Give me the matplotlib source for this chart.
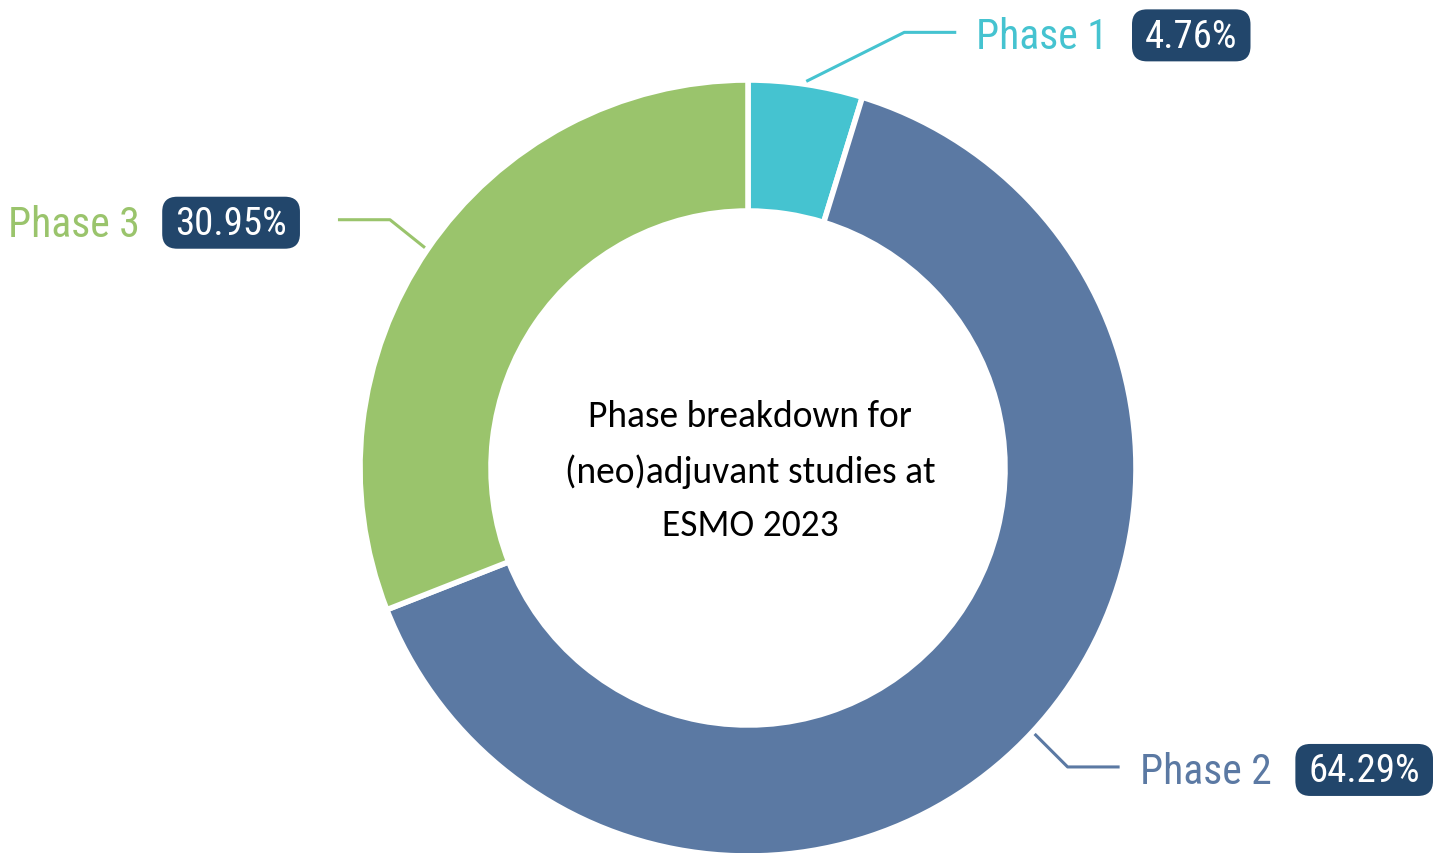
import matplotlib
matplotlib.use("Agg")
import matplotlib.pyplot as plt
from matplotlib.patches import FancyBboxPatch
import numpy as np

# data
phases = ["Phase 1", "Phase 2", "Phase 3"]
shares = [4.76, 64.29, 30.95]
colors = ["#45C3D0", "#5B79A3", "#9AC46C"]
box_color = "#22466B"
title = "Phase breakdown for\n(neo)adjuvant studies at\nESMO 2023"

W, H = 1440, 854
cx, cy = 748, H - 469
r_out, r_in = 388, 257

# leader elbows (dx, dy from start), horizontal run, side
leaders = {
    "Phase 1": (98, 49, 52, 1),
    "Phase 2": (33, -33, 52, 1),
    "Phase 3": (-35, 28, -52, -1),
}
label_font = ["Liberation Sans Narrow", "Roboto Condensed", "Roboto", "DejaVu Sans"]

fig = plt.figure(figsize=(14.4, 8.54), dpi=100)
ax = fig.add_axes([0, 0, 1, 1])
wedges, _ = ax.pie(shares, colors=colors, startangle=90, counterclock=False,
                   center=(cx, cy), radius=r_out,
                   wedgeprops=dict(width=r_out - r_in, edgecolor="white", linewidth=4))
ax.set_xlim(0, W)
ax.set_ylim(0, H)
ax.set_aspect("equal")
ax.axis("off")

ax.text(cx + 2, cy - 2, title, ha="center", va="center", fontsize=27,
        family=["Carlito", "Lato", "DejaVu Sans"], linespacing=1.75, color="black")

fig.canvas.draw()
renderer = fig.canvas.get_renderer()
inv = ax.transData.inverted()


def box_behind(t):
    bb = t.get_window_extent(renderer)
    (bx0, by0), (bx1, by1) = inv.transform([(bb.x0, bb.y0), (bb.x1, bb.y1)])
    ymid = (by0 + by1) / 2
    ax.add_patch(FancyBboxPatch((bx0 - 13, ymid - 25), (bx1 - bx0) + 26, 52,
                                boxstyle="round,pad=0,rounding_size=15",
                                fc=box_color, ec="none", zorder=2))
    return bx0 - 13, bx1 + 13


for w, name, val, col in zip(wedges, phases, shares, colors):
    ang = np.deg2rad((w.theta1 + w.theta2) / 2)
    x0 = cx + (r_out + 3) * np.cos(ang)
    y0 = cy + (r_out + 3) * np.sin(ang)
    dx, dy, run, side = leaders[name]
    x1, y1 = x0 + dx, y0 + dy
    x2 = x1 + run
    ax.plot([x0, x1, x2], [y0, y1, y1], color=col, lw=2.2, solid_capstyle="butt")

    pct = f"{val:.2f}%"
    if side > 0:
        t = ax.text(x2 + 20, y1, name, ha="left", va="center_baseline",
                    fontsize=30, color=col, family=label_font)
        bb = t.get_window_extent(renderer)
        xe = inv.transform((bb.x1, 0))[0]
        p = ax.text(xe + 37, y1, pct, ha="left", va="center_baseline", fontsize=28,
                    color="white", family=label_font, zorder=3)
        box_behind(p)
    else:
        p = ax.text(x2 - 51, y1, pct, ha="right", va="center_baseline", fontsize=28,
                    color="white", family=label_font, zorder=3)
        bx0, _ = box_behind(p)
        ax.text(bx0 - 22, y1, name, ha="right", va="center_baseline",
                fontsize=30, color=col, family=label_font)

fig.savefig("out.png", dpi=100)
